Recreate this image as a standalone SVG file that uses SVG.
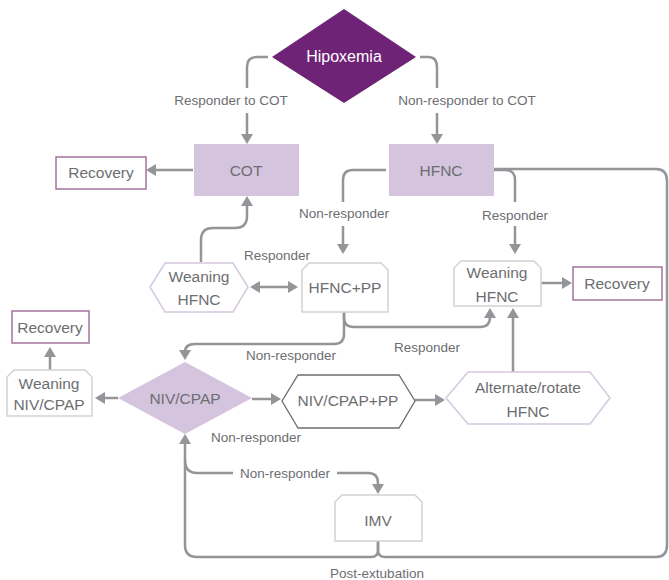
<svg xmlns="http://www.w3.org/2000/svg" width="669" height="580" viewBox="0 0 669 580">
<defs>
<style>
text{font-family:"Liberation Sans",Arial,sans-serif;fill:#6d6e71;text-anchor:middle}
.node{font-size:15.5px}
.lbl{font-size:13.5px}
.con{fill:none;stroke:#939598;stroke-width:2.5}
.arr{marker-end:url(#ah)}
.solid{fill:#d5c4de;stroke:none}
.rec{fill:#fff;stroke:#a5749c;stroke-width:1.5}
.grey{fill:#fff;stroke:#d1d3d4;stroke-width:1.5}
.lav{fill:#fff;stroke:#d6c8de;stroke-width:1.5}
.dark{fill:#fff;stroke:#6d6e71;stroke-width:1.3}
</style>
<marker id="ah" viewBox="0 0 10 12" refX="7" refY="6" markerWidth="10" markerHeight="12" markerUnits="userSpaceOnUse" orient="auto"><path d="M0,0 L10,6 L0,12 z" fill="#939598"/></marker>
<marker id="ahs" viewBox="0 0 10 12" refX="3" refY="6" markerWidth="10" markerHeight="12" markerUnits="userSpaceOnUse" orient="auto"><path d="M10,0 L0,6 L10,12 z" fill="#939598"/></marker>
</defs>
<rect width="669" height="580" fill="#fff"/>

<g id="connectors">
<path class="con arr" d="M268,57 H257 Q247,57 247,67 V88 M247,113 V141"/>
<path class="con arr" d="M420,57 H428 Q437,57 437,67 V88 M437,113 V141"/>
<text class="lbl" x="231" y="105">Responder to COT</text>
<text class="lbl" x="467" y="105">Non-responder to COT</text>
<path class="con arr" d="M193,170 H149"/>
<path class="con arr" d="M201,262 V240 Q201,228 213,228 H235 Q247,228 247,216 V199"/>
<path class="con arr" d="M386,170 H353 Q343,170 343,180 V202 M343,226 V251"/>
<text class="lbl" x="344" y="218">Non-responder</text>
<path class="con arr" d="M494,170 H505 Q515,170 515,180 V202 M515,226 V251"/>
<text class="lbl" x="515" y="220">Responder</text>
<path class="con" d="M378,541 V550 Q378,557 385,557 H656 Q667,557 667,545 V181 Q667,169 656,169 H494"/>
<path class="con arr" d="M378,541 V550 Q378,557 371,557 H197 Q185,557 185,545 V437"/>
<path class="con arr" d="M185,460 Q185,473 197,473 H233 M337,473 H368 Q378,473 378,483 V491"/>
<text class="lbl" x="285" y="478">Non-responder</text>
<text class="lbl" x="377" y="578">Post-extubation</text>
<path class="con arr" d="M344,312 V318 Q344,327 354,327 H480 Q490,327 490,317 V311"/>
<path class="con arr" d="M344,312 V334 Q344,344 334,344 H195 Q185,344 185,352 V357"/>
<text class="lbl" x="277" y="260">Responder</text>
<text class="lbl" x="427" y="352">Responder</text>
<text class="lbl" x="291" y="360">Non-responder</text>
<text class="lbl" x="256" y="442">Non-responder</text>
<path class="con arr" d="M253,287 H295" marker-start="url(#ahs)"/>
<path class="con arr" d="M118,398 H98"/>
<path class="con arr" d="M50,370 V350"/>
<path class="con arr" d="M252,399 H278"/>
<path class="con arr" d="M415,400 H442"/>
<path class="con arr" d="M513,372 V311"/>
<path class="con arr" d="M541,283 H569"/>
</g>

<g id="hipoxemia">
<polygon points="344,9 416,57 344,103 272,57" fill="#6e2377"/>
<text class="node" x="344" y="62" style="fill:#fff;font-size:16px">Hipoxemia</text>
</g>
<g id="cot">
<rect class="solid" x="194" y="144" width="105" height="52"/>
<text class="node" x="246" y="176">COT</text>
</g>
<g id="hfnc">
<rect class="solid" x="389" y="144" width="105" height="52"/>
<text class="node" x="441" y="176">HFNC</text>
</g>
<g id="recovery1">
<rect class="rec" x="56" y="157" width="90" height="32"/>
<text class="node" x="101" y="178">Recovery</text>
</g>
<g id="weaning-hfnc-left">
<polygon class="lav" points="165,263 233,263 248,287 233,312 165,312 150,287"/>
<text class="node" x="199" y="282">Weaning</text>
<text class="node" x="199" y="305">HFNC</text>
</g>
<g id="hfnc-pp">
<polygon class="grey" points="302,312 302,270 309,263 381,263 388,270 388,312"/>
<text class="node" x="345" y="293">HFNC+PP</text>
</g>
<g id="weaning-hfnc-right">
<polygon class="grey" points="454,306 454,268 461,261 534,261 541,268 541,306"/>
<text class="node" x="497" y="278">Weaning</text>
<text class="node" x="497" y="302">HFNC</text>
</g>
<g id="recovery2">
<rect class="rec" x="573" y="267" width="89" height="33"/>
<text class="node" x="617" y="289">Recovery</text>
</g>
<g id="recovery3">
<rect class="rec" x="12" y="311" width="77" height="32"/>
<text class="node" x="50" y="333">Recovery</text>
</g>
<g id="weaning-niv">
<polygon class="grey" points="7,416 7,377 14,370 85,370 92,377 92,416"/>
<text class="node" x="49" y="389">Weaning</text>
<text class="node" x="49" y="410">NIV/CPAP</text>
</g>
<g id="niv-cpap">
<polygon class="solid" points="185,362 252,398 185,434 118,398"/>
<text class="node" x="185" y="404">NIV/CPAP</text>
</g>
<g id="niv-cpap-pp">
<polygon class="dark" points="298,375 399,375 415,401 399,428 298,428 282,401"/>
<text class="node" x="348" y="406">NIV/CPAP+PP</text>
</g>
<g id="alternate">
<polygon class="lav" points="468,372 590,372 610,398 590,424 468,424 446,398"/>
<text class="node" x="528" y="393">Alternate/rotate</text>
<text class="node" x="528" y="417">HFNC</text>
</g>
<g id="imv">
<polygon class="grey" points="335,541 335,502 342,495 415,495 422,502 422,541"/>
<text class="node" x="378" y="526">IMV</text>
</g>
</svg>
